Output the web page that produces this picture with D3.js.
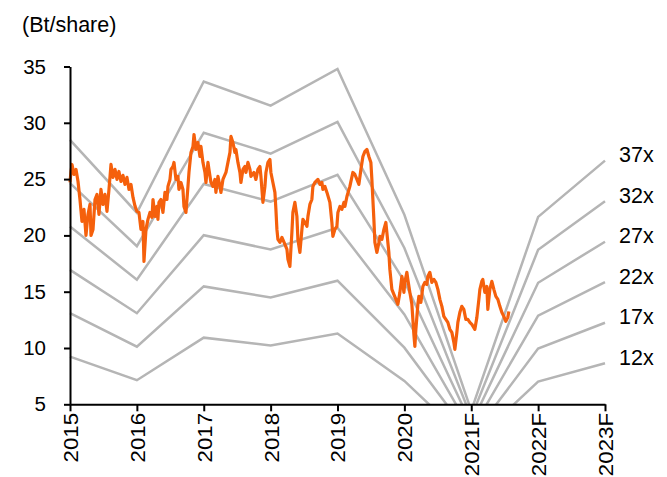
<!DOCTYPE html>
<html><head><meta charset="utf-8">
<script src="https://cdn.jsdelivr.net/npm/d3@7"></script>
<style>
body{margin:0;background:#fff}
svg{display:block}
text{font-family:"Liberation Sans",Arial,sans-serif;fill:#000}
</style>
</head><body>
<svg id="chart" width="667" height="477"></svg>
<script>
// ---------- DATA ----------
const yearLabels = ["2015","2016","2017","2018","2019","2020","2021F","2022F","2023F"];
const yearValues = [2015,2016,2017,2018,2019,2020,2021,2022,2023];
const epsValues  = [0.77,0.595,0.91,0.852,0.94,0.59,0.12,0.585,0.72];
const peMultiples = [12,17,22,27,32,37];
const peLabels = ["12x","17x","22x","27x","32x","37x"];
const yTickValues = [5,10,15,20,25,30,35];
const unitLabel = "(Bt/share)";

const priceDates = [
2015.000,2015.015,2015.030,2015.060,2015.090,2015.120,2015.149,2015.179,2015.209,2015.239,
2015.269,2015.299,2015.314,2015.344,2015.374,2015.404,2015.433,2015.463,2015.493,2015.523,
2015.553,2015.583,2015.613,2015.643,2015.673,2015.703,2015.732,2015.762,2015.792,2015.822,
2015.852,2015.882,2015.912,2015.942,2015.972,2016.001,2016.031,2016.061,2016.091,2016.106,
2016.136,2016.166,2016.196,2016.226,2016.241,2016.271,2016.300,2016.315,2016.330,2016.360,
2016.390,2016.420,2016.450,2016.465,2016.495,2016.510,2016.540,2016.555,2016.584,2016.614,
2016.629,2016.659,2016.689,2016.704,2016.734,2016.764,2016.779,2016.809,2016.839,2016.854,
2016.883,2016.913,2016.943,2016.958,2016.988,2017.018,2017.033,2017.063,2017.078,2017.108,
2017.138,2017.167,2017.182,2017.212,2017.242,2017.257,2017.287,2017.332,2017.362,2017.392,
2017.407,2017.436,2017.466,2017.481,2017.511,2017.541,2017.556,2017.586,2017.616,2017.631,
2017.661,2017.691,2017.706,2017.750,2017.780,2017.810,2017.840,2017.855,2017.885,2017.915,
2017.930,2017.960,2017.990,2018.004,2018.034,2018.064,2018.079,2018.094,2018.109,2018.139,
2018.169,2018.214,2018.244,2018.259,2018.288,2018.318,2018.333,2018.363,2018.393,2018.408,
2018.438,2018.468,2018.483,2018.513,2018.543,2018.558,2018.587,2018.617,2018.632,2018.662,
2018.707,2018.737,2018.767,2018.782,2018.812,2018.842,2018.886,2018.916,2018.931,2018.961,
2018.991,2019.006,2019.036,2019.066,2019.096,2019.111,2019.141,2019.185,2019.230,2019.260,
2019.290,2019.320,2019.350,2019.380,2019.410,2019.440,2019.469,2019.499,2019.514,2019.529,
2019.544,2019.559,2019.589,2019.619,2019.634,2019.664,2019.694,2019.723,2019.738,2019.768,
2019.783,2019.813,2019.843,2019.873,2019.903,2019.933,2019.963,2019.993,2020.007,2020.037,
2020.052,2020.082,2020.112,2020.142,2020.157,2020.172,2020.202,2020.217,2020.247,2020.277,
2020.306,2020.336,2020.351,2020.381,2020.411,2020.441,2020.471,2020.501,2020.531,2020.561,
2020.590,2020.620,2020.650,2020.680,2020.710,2020.740,2020.755,2020.785,2020.800,2020.830,
2020.859,2020.889,2020.919,2020.949,2020.979,2021.009,2021.054,2021.084,2021.114,2021.129,
2021.158,2021.173,2021.203,2021.233,2021.248,2021.278,2021.308,2021.338,2021.368,2021.398,
2021.428,2021.457,2021.487,2021.517,2021.547,2021.562
];
const priceValues = [
24.70,25.68,26.30,25.41,25.86,24.79,23.19,21.24,22.31,20.00,
21.86,22.75,20.00,20.53,23.19,23.64,21.86,24.08,22.75,23.64,
22.13,24.08,26.30,25.15,25.86,24.97,25.68,24.79,25.33,24.53,
25.15,24.08,24.53,23.37,22.60,22.13,22.04,20.53,21.24,17.69,
20.53,21.42,22.04,21.60,23.19,21.69,22.57,21.42,22.93,23.19,
22.04,23.82,23.19,24.35,24.97,25.86,26.12,26.48,24.97,25.24,
24.08,24.70,24.08,22.57,22.04,24.35,25.59,27.37,27.90,28.96,
27.63,28.25,27.01,27.90,26.48,25.59,24.70,26.48,25.86,24.70,
24.35,24.97,23.82,25.24,24.35,23.82,24.97,25.59,26.48,27.37,
28.79,28.25,27.37,27.63,26.48,25.59,24.70,25.86,26.12,25.59,
26.48,25.86,25.24,25.59,24.97,25.86,26.12,25.24,22.93,24.35,
25.59,26.48,26.74,25.59,24.70,23.82,22.31,20.53,19.64,19.38,
19.82,19.20,18.76,17.87,17.25,20.27,22.04,22.93,21.69,19.64,
18.49,20.53,21.42,21.15,20.80,21.69,22.75,23.19,24.35,24.70,
24.97,24.53,24.70,24.08,24.35,23.82,22.93,21.15,19.91,20.53,
20.80,22.04,22.57,22.31,22.93,22.57,23.46,24.35,25.59,25.41,
24.97,24.53,25.86,27.01,27.46,27.63,27.01,26.48,24.97,23.19,
21.42,19.38,18.49,19.38,19.91,19.64,20.53,21.15,20.27,18.49,
16.98,15.21,14.76,14.32,13.88,14.94,16.36,14.94,15.83,16.72,
16.09,14.94,13.88,11.21,10.15,11.66,13.88,14.59,14.05,15.47,
15.83,15.65,16.36,16.72,15.83,16.09,15.83,15.21,14.32,13.70,
12.81,12.54,12.28,11.66,11.39,10.50,9.88,11.39,12.28,13.17,
13.70,13.43,12.54,12.54,12.28,12.10,11.66,12.72,14.32,15.21,
15.92,16.09,14.94,15.47,13.43,15.21,15.92,15.21,14.59,14.32,
13.70,13.17,12.81,12.37,12.72,13.25
];

// ---------- CHART ----------
const FONT = '"Liberation Sans",Arial,sans-serif';
const svg = d3.select("#chart");
const x = d3.scaleLinear().domain([2015, 2023]).range([70, 605]);
const y = d3.scaleLinear().domain([5, 35]).range([404.3, 66.5]);

svg.append("defs").append("clipPath").attr("id","plotClip")
  .append("rect").attr("x", 60).attr("y", 0).attr("width", 560).attr("height", y(5));

// PE band lines
const line = d3.line().x(d => x(d[0])).y(d => y(d[1]));
const bands = svg.append("g").attr("clip-path","url(#plotClip)");
peMultiples.forEach(k => {
  const pts = yearValues.map((yr, i) => [yr, epsValues[i] * k]);
  bands.append("path").attr("d", line(pts))
    .attr("fill","none").attr("stroke","#b5b5b5").attr("stroke-width",2.5);
});

// Price line
const pricePts = priceDates.map((d, i) => [d, priceValues[i]]);
svg.append("path").attr("d", line(pricePts))
  .attr("fill","none").attr("stroke","#f5600c").attr("stroke-width",3.2)
  .attr("stroke-linejoin","round");

// PE labels
const lastEps = epsValues[epsValues.length - 1];
svg.append("g").selectAll("text").data(peMultiples).join("text")
  .attr("x", x(2023) + 14)
  .attr("y", (k) => y(lastEps * k) - 4)
  .attr("dominant-baseline","middle")
  .attr("font-size", 21.5)
  .text((k, i) => peLabels[i]);

// Y axis
const yAxis = svg.append("g").attr("transform", `translate(${x(2015)},0)`)
  .call(d3.axisLeft(y).tickValues(yTickValues).tickSize(6).tickSizeOuter(0).tickPadding(18).tickFormat(d3.format("d")));
yAxis.select(".domain").attr("stroke","#000").attr("stroke-width",2);
yAxis.selectAll(".tick line").attr("stroke","#000").attr("stroke-width",2);
yAxis.selectAll(".tick text").attr("font-size",20.5).attr("font-family",FONT);

// X axis
const xAxis = svg.append("g").attr("transform", `translate(0,${y(5)})`)
  .call(d3.axisBottom(x).tickValues(yearValues).tickSize(7).tickSizeOuter(0)
    .tickFormat((d, i) => yearLabels[i]));
xAxis.select(".domain").attr("stroke","#000").attr("stroke-width",2);
xAxis.selectAll(".tick line").attr("stroke","#000").attr("stroke-width",2);
xAxis.selectAll(".tick text")
  .attr("font-size",20.5).attr("font-family",FONT)
  .attr("transform","translate(0,8.5) scale(1,1.09) rotate(-90)")
  .attr("text-anchor","end")
  .attr("x",0).attr("y",0).attr("dy","0.36em");

// Unit label
svg.append("text").attr("x", 22).attr("y", 32).attr("font-size", 21.5).text(unitLabel);
</script>
</body></html>
